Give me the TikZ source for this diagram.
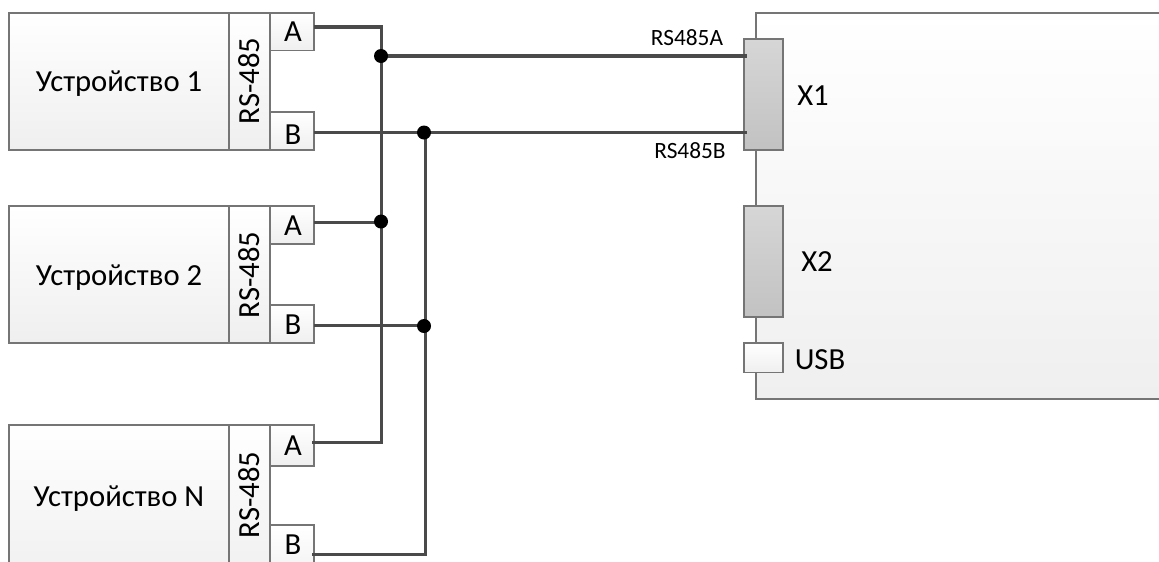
\documentclass[tikz,border=0pt]{standalone}
\usepackage{fontspec}
\setmainfont{Carlito}
\begin{document}
\begin{tikzpicture}[x=0.75pt,y=-0.75pt,
  bx/.style={draw=boxline,line width=0.8pt,rectangle,inner sep=0pt,outer sep=0pt,anchor=north west,top color=white,bottom color=boxlow},
  conn/.style={draw=boxline,line width=0.8pt,rectangle,inner sep=0pt,outer sep=0pt,anchor=north west,top color=connhi,bottom color=connlow},
  usbbox/.style={bx},
  devmain/.style={bx,minimum width=165pt},
  rsbox/.style={bx,minimum width=30.75pt},
  pinbox/.style={bx,minimum width=33pt},
  txt/.style={font=\fontsize{23pt}{26pt}\selectfont,text=black,inner sep=0pt},
  small/.style={font=\fontsize{17.5pt}{20pt}\selectfont,text=black,inner sep=0pt},
  wirethick/.style={draw=wirecol,line width=2.9pt},
  wirethin/.style={draw=wirecol,line width=2.3pt},
  junction/.style={circle,fill=black,inner sep=0pt,outer sep=0pt,minimum size=10.5pt}]
\definecolor{boxline}{HTML}{757575}
\definecolor{boxlow}{HTML}{EFEFEF}
\definecolor{connhi}{HTML}{D6D6D6}
\definecolor{connlow}{HTML}{C2C2C2}
\definecolor{wirecol}{HTML}{4A4A4A}
\useasboundingbox (0,0) rectangle (1159,561);
\clip (0,0) rectangle (1159,561);
% device 1
\node[devmain,minimum height=102.75pt] (d1) at (9,13) {};
\node[rsbox,minimum height=102.75pt] (r1) at (229,13) {};
\node[pinbox,minimum height=28pt] (a1) at (270,13) {};
\node[pinbox,minimum height=28.5pt] (b1) at (270,112) {};
% device 2
\node[devmain,minimum height=102.75pt] (d2) at (9,206) {};
\node[rsbox,minimum height=102.75pt] (r2) at (229,206) {};
\node[pinbox,minimum height=28.5pt] (a2) at (270,206) {};
\node[pinbox,minimum height=28.5pt] (b2) at (270,305) {};
% device N
\node[devmain,minimum height=120pt] (d3) at (9,425) {};
\node[rsbox,minimum height=120pt] (r3) at (229,425) {};
\node[pinbox,minimum height=30.75pt] (a3) at (270,425) {};
\node[pinbox,minimum height=45pt] (b3) at (270,525) {};
% controller
\node[bx,minimum width=320pt,minimum height=289.5pt] (ctl) at (756,13) {};
\node[conn,minimum width=29.25pt,minimum height=83.25pt] (x1) at (744,39) {};
\node[conn,minimum width=29.25pt,minimum height=83.25pt] (x2) at (744,206) {};
\node[usbbox,minimum width=29.25pt,minimum height=22pt] (usb) at (744,343) {};
% labels
\node[txt] (t1) at (119,84) {Устройство 1};
\node[txt] (t2) at (119,278) {Устройство 2};
\node[txt] (t3) at (119,499) {Устройство N};
\node[txt,rotate=90] (l1) at (249,81) {RS-485};
\node[txt,rotate=90] (l2) at (249,275) {RS-485};
\node[txt,rotate=90] (l3) at (249,495) {RS-485};
\node[txt] (pa1) at (293,32) {A};
\node[txt] (pb1) at (293,135) {B};
\node[txt] (pa2) at (293,226) {A};
\node[txt] (pb2) at (293,325) {B};
\node[txt] (pa3) at (293,446) {A};
\node[txt] (pb3) at (293,545) {B};
\node[txt] (lx1) at (813,96) {X1};
\node[txt] (lx2) at (817,262) {X2};
\node[txt] (lusb) at (820,360) {USB};
\node[small] (la) at (687,38) {RS485A};
\node[small] (lb) at (690,151) {RS485B};
% anchors on the wires
\coordinate (a1e) at (314,27);
\coordinate (b1e) at (314,132.5);
\coordinate (a2e) at (314,222.5);
\coordinate (b2e) at (314,325.5);
\coordinate (a3e) at (314,442.5);
\coordinate (b3e) at (314,554.5);
\coordinate (x1a) at (747,56);
\coordinate (x1b) at (747,132.5);
\coordinate (ca) at (381.5,27);
\coordinate (cn) at (381.5,442.5);
\coordinate (cb) at (425.5,554.5);
% wires
\draw[wirethin] (ca) -- (cn);
\draw[wirethin] (425.5,132.5) -- (cb);
\draw[wirethick] (a1e) -- (ca) -- (381.5,40);
\draw[wirethick] (381.5,56) -- (x1a);
\draw[wirethick] (b1e) -- (x1b);
\draw[wirethin] (a2e) -- (381.5,222.5);
\draw[wirethin] (b2e) -- (425.5,325.5);
\draw[wirethin,line cap=rect] (a3e) -- (cn);
\draw[wirethin,line cap=rect] (b3e) -- (cb);
\node[junction] (j1) at (381,56) {};
\node[junction] (j2) at (424,132.5) {};
\node[junction] (j3) at (381,221.5) {};
\node[junction] (j4) at (424,326) {};
\end{tikzpicture}
\end{document}
